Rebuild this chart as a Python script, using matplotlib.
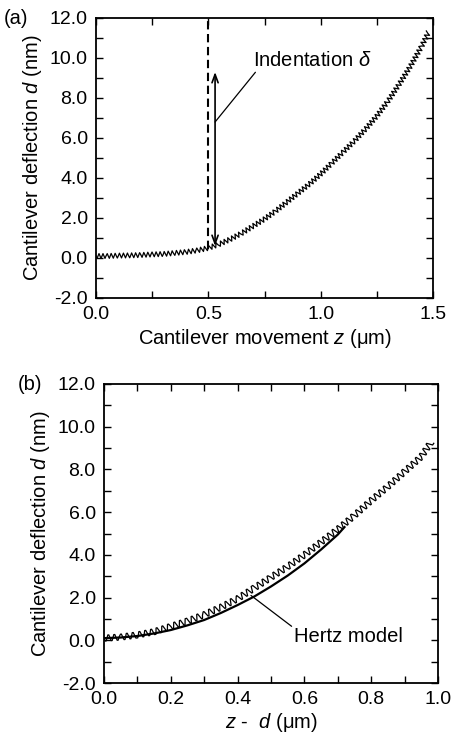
import matplotlib
matplotlib.use("Agg")
import matplotlib.pyplot as plt
from matplotlib.ticker import MultipleLocator, FormatStrFormatter

plt.rcParams['font.family'] = ['Liberation Sans', 'DejaVu Sans']
plt.rcParams['mathtext.fontset'] = 'custom'
plt.rcParams['mathtext.rm'] = 'Liberation Sans'
plt.rcParams['mathtext.it'] = 'Liberation Sans:italic'
plt.rcParams['axes.unicode_minus'] = False

# panel (a): deflection vs cantilever movement (trend)
z_a = [0.0, 0.05, 0.1, 0.15, 0.2, 0.25, 0.3, 0.35, 0.4, 0.45, 0.5, 0.55, 0.6,
       0.65, 0.7, 0.75, 0.8, 0.85, 0.9, 0.95, 1.0, 1.05, 1.1, 1.15, 1.2, 1.25,
       1.3, 1.35, 1.4, 1.45, 1.48]
d_a = [0.1, 0.1, 0.12, 0.13, 0.15, 0.18, 0.2, 0.25, 0.3, 0.38, 0.5, 0.7, 0.95,
       1.25, 1.6, 1.95, 2.35, 2.8, 3.25, 3.7, 4.2, 4.75, 5.3, 5.85, 6.45, 7.1,
       7.85, 8.7, 9.6, 10.6, 11.3]

# contact point and indentation arrow
contact_z = 0.5
contact_d = 0.45
indent_z = 0.53
indent_lo = 0.6
indent_hi = 9.3

# panel (b): deflection vs z - d, measured and Hertz fit
z_b = [0.0, 0.05, 0.1, 0.15, 0.2, 0.25, 0.3, 0.35, 0.4, 0.45, 0.5, 0.55, 0.6,
       0.65, 0.7, 0.75, 0.8, 0.85, 0.9, 0.95, 0.98]
d_b = [0.1, 0.15, 0.25, 0.4, 0.65, 0.9, 1.2, 1.55, 1.95, 2.45, 2.95, 3.45, 4.0,
       4.6, 5.2, 5.85, 6.55, 7.2, 7.9, 8.6, 9.3]
z_hertz = [0.0, 0.05, 0.1, 0.15, 0.2, 0.25, 0.3, 0.35, 0.4, 0.45, 0.5, 0.55,
           0.6, 0.65, 0.7, 0.72]
d_hertz = [0.1, 0.13, 0.2, 0.32, 0.48, 0.7, 0.95, 1.28, 1.65, 2.05, 2.52, 3.03,
           3.6, 4.25, 4.95, 5.3]

fig = plt.figure(figsize=(4.54, 7.41), dpi=100)
W, H = 454, 741
ax1 = fig.add_axes([96 / W, 1 - 298 / H, (433 - 96) / W, (298 - 18) / H])
ax2 = fig.add_axes([104 / W, 1 - 683 / H, (438 - 104) / W, (683 - 384) / H])

for ax in (ax1, ax2):
    ax.set_ylim(-2, 12)
    ax.yaxis.set_major_locator(MultipleLocator(2))
    ax.yaxis.set_minor_locator(MultipleLocator(1))
    ax.yaxis.set_major_formatter(FormatStrFormatter('%.1f'))
    ax.xaxis.set_major_formatter(FormatStrFormatter('%.1f'))
    ax.tick_params(which='both', direction='in', top=True, right=True,
                   length=5, width=1, labelsize=14, pad=6)
    for s in ax.spines.values():
        s.set_linewidth(1.3)
    ax.set_ylabel('Cantilever deflection $d$ (nm)', fontsize=14.5, labelpad=4)

# (a)
ax1.set_xlim(0, 1.5)
ax1.xaxis.set_major_locator(MultipleLocator(0.5))
ax1.xaxis.set_minor_locator(MultipleLocator(0.25))
line, = ax1.plot(z_a, d_a, color='black', lw=0.9)
line.set_sketch_params(2.4, 4, 1)
ax1.plot([contact_z, contact_z], [contact_d, 12], color='black', lw=1.5,
         ls=(0, (4, 2.2)))
ax1.annotate('', xy=(indent_z, indent_hi), xytext=(indent_z, indent_lo),
             arrowprops=dict(arrowstyle='<->,head_length=0.6,head_width=0.22',
                             lw=1.2, color='black', shrinkA=0, shrinkB=0))
ax1.annotate('Indentation $\\delta$', xy=(indent_z, 6.8), xytext=(0.7, 9.9),
             fontsize=14.5, va='center',
             arrowprops=dict(arrowstyle='-', lw=0.9, color='black',
                             shrinkA=0, shrinkB=0, relpos=(0.05, 0.1)))
ax1.set_xlabel('Cantilever movement $z$ (μm)', fontsize=14.5, labelpad=3)
fig.text(4 / W, 1 - 18 / H, '(a)', fontsize=14.5, va='center')

# (b)
ax2.set_xlim(0, 1.0)
ax2.xaxis.set_major_locator(MultipleLocator(0.2))
ax2.xaxis.set_minor_locator(MultipleLocator(0.1))
line, = ax2.plot(z_b, d_b, color='black', lw=0.9)
line.set_sketch_params(3.4, 6, 1)
ax2.plot(z_hertz, d_hertz, color='black', lw=1.6)
ax2.annotate('Hertz model', xy=(0.44, 2.1), xytext=(0.57, 0.2),
             fontsize=14.5, va='center',
             arrowprops=dict(arrowstyle='-', lw=0.9, color='black',
                             shrinkA=0, shrinkB=0, relpos=(0.0, 0.9)))
ax2.set_xlabel('$z$ -  $d$ (μm)', fontsize=14.5, labelpad=2)
fig.text(18 / W, 1 - 384 / H, '(b)', fontsize=14.5, va='center')

fig.savefig('out.png', dpi=100)
